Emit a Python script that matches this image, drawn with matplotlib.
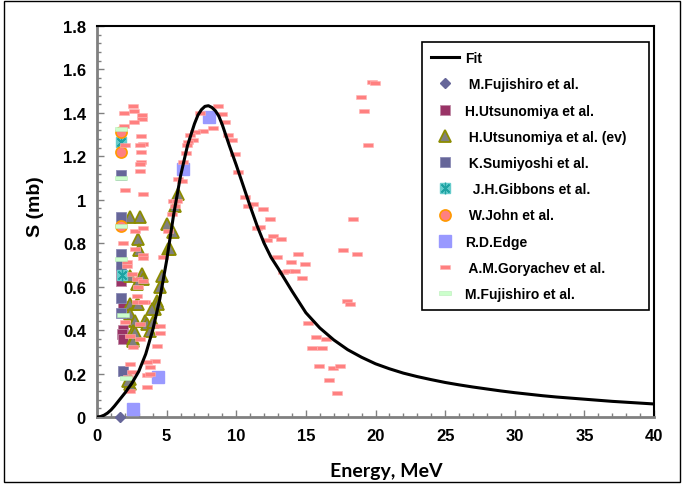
import matplotlib
matplotlib.use("Agg")
import matplotlib.pyplot as plt
from matplotlib.patches import Rectangle
from matplotlib.path import Path
from matplotlib.ticker import MultipleLocator, FuncFormatter

# fitted curve
fit_x = [0, 0.25, 0.5, 0.75, 1, 1.25, 1.5, 2, 2.5, 3, 3.5, 4, 4.5, 5, 5.5, 6, 6.5, 7,
         7.25, 7.5, 7.75, 8, 8.25, 8.5, 8.75, 9, 9.5, 10, 10.5, 11, 11.5, 12, 12.5, 13,
         14, 15, 16, 17, 18, 19, 20, 21, 22, 23, 24, 25, 26, 27, 28, 29, 30, 31, 32,
         33, 34, 35, 36, 37, 38, 39, 40]
fit_y = [0, 0.002, 0.008, 0.018, 0.032, 0.05, 0.07, 0.11, 0.155, 0.21, 0.29, 0.40,
         0.54, 0.72, 0.93, 1.11, 1.25, 1.35, 1.39, 1.415, 1.43, 1.433, 1.425, 1.41,
         1.385, 1.345, 1.25, 1.16, 1.065, 0.97, 0.88, 0.80, 0.735, 0.685, 0.58, 0.48,
         0.41, 0.355, 0.31, 0.275, 0.245, 0.222, 0.202, 0.186, 0.172, 0.159, 0.148,
         0.138, 0.129, 0.12, 0.112, 0.105, 0.098, 0.092, 0.087, 0.082, 0.077, 0.072,
         0.068, 0.064, 0.06]

fuji_x = [1.65]
fuji_y = [0.0]

utsu_x = [1.75, 1.75, 1.85, 1.85, 1.8, 1.9]
utsu_y = [0.674, 0.628, 0.513, 0.40, 0.38, 0.36]

ev_x = [2.37, 3.09, 2.97, 3.04, 2.37, 3.21, 3.33, 2.85, 2.37, 2.85, 2.37, 2.73, 2.61,
        2.56, 3.45, 3.57, 3.81, 4.17, 4.29, 4.53, 4.65, 5.12, 5.24, 5.05, 5.44, 5.6,
        5.84, 2.37, 2.37, 2.97, 4.4, 3.93, 2.73, 2.61, 2.25, 4.05]
ev_y = [0.92, 0.92, 0.82, 0.77, 0.65, 0.658, 0.635, 0.61, 0.52, 0.52, 0.474, 0.443,
        0.397, 0.36, 0.443, 0.428, 0.397, 0.497, 0.535, 0.597, 0.65, 0.773, 0.773,
        0.889, 0.85, 0.973, 1.027, 0.175, 0.152, 0.52, 0.52, 0.497, 0.39, 0.351, 0.167,
        0.436]

sumi_x = [1.7, 1.72, 1.72, 1.72, 1.75, 1.75, 1.85]
sumi_y = [1.114, 0.92, 0.75, 0.70, 0.548, 0.48, 0.213]

gibb_x = [1.7, 1.8]
gibb_y = [1.265, 0.654]

john_x = [1.7, 1.7, 1.75]
john_y = [1.31, 1.22, 0.88]

edge_x = [2.6, 4.4, 6.2, 8.07]
edge_y = [0.037, 0.183, 1.142, 1.38]

gory_x = [2.61, 2.66, 1.94, 3.26, 3.21, 1.94, 2.66, 3.16, 3.28, 3.09, 2.01, 3.18, 3.14,
          3.09, 3.09, 2.01, 3.28,
          1.89, 2.73, 3.28, 2.73, 3.33, 2.13, 3.28, 2.13, 2.49, 2.9, 2.97, 3.33, 2.9,
          3.45, 4.77, 5.12, 5.36, 5.48, 5.6,
          2.85, 3.33, 2.01, 3.09, 4.53, 4.53, 2.37, 3.09, 4.29, 2.61, 4.17, 3.57, 3.81,
          2.37, 3.57, 3.81, 2.49, 2.25, 3.57, 2.37,
          8.72, 7.4, 8.96, 9.2, 8.36, 7.64, 7.04, 6.68, 9.43, 9.67, 6.92, 6.56, 6.44,
          9.91, 6.39, 6.2, 10.15, 5.84, 6.08, 10.63, 10.87, 5.72,
          11.23, 11.95, 12.43, 11.47, 11.71, 12.19, 12.67, 13.22, 17.69, 12.9, 14.46,
          14.94, 13.94, 13.38, 13.74, 14.22, 14.7,
          18.4, 18.7, 17.94, 18.18, 15.18, 15.71, 16.45, 15.42, 16.19, 15.95, 16.93,
          17.46, 16.69, 17.22,
          19.73, 19.97, 18.94, 19.2, 19.47]
gory_y = [1.43, 1.41, 1.40, 1.39, 1.37, 1.34, 1.357, 1.294, 1.255, 1.252, 1.254, 1.22,
          1.175, 1.163, 1.134, 1.045, 1.025,
          0.80, 0.858, 0.869, 0.773, 0.746, 0.715, 0.73, 0.697, 0.658, 0.635, 0.597,
          0.628, 0.559, 0.531, 0.735, 0.858, 0.935, 0.996, 0.973,
          0.531, 0.531, 0.436, 0.428, 0.42, 0.385, 0.374, 0.36, 0.328, 0.321, 0.259,
          0.252, 0.229, 0.244, 0.195, 0.198, 0.206, 0.183, 0.137, 0.121,
          1.43, 1.40, 1.395, 1.36, 1.33, 1.318, 1.31, 1.298, 1.30, 1.273, 1.273, 1.265,
          1.25, 1.211, 1.215, 1.173, 1.13, 1.096, 1.088, 1.011, 0.973, 0.996,
          0.981, 0.958, 0.912, 0.869, 0.876, 0.817, 0.835, 0.82, 0.767, 0.738, 0.749,
          0.704, 0.712, 0.669, 0.674, 0.674, 0.64,
          0.912, 0.75, 0.535, 0.52, 0.431, 0.37, 0.359, 0.318, 0.318, 0.236, 0.224,
          0.236, 0.169, 0.109,
          1.54, 1.536, 1.475, 1.41, 1.254]

fuji2_x = [1.7, 1.7, 1.75, 1.75, 1.85, 2.1]
fuji2_y = [1.326, 1.099, 0.878, 0.727, 0.471, 0.18]

labels = ["Fit", " M.Fujishiro et al.", "H.Utsunomiya et al.", " H.Utsunomiya et al. (ev)",
          " K.Sumiyoshi et al.", "  J.H.Gibbons et al.", " W.John et al.", "R.D.Edge",
          " A.M.Goryachev et al.", "M.Fujishiro et al."]

plt.rcParams["font.family"] = ["Liberation Sans", "DejaVu Sans"]
plt.rcParams["font.weight"] = "bold"

fig = plt.figure(figsize=(6.84, 4.85), dpi=100)
ax = fig.add_axes([97 / 684, 1 - 418 / 485, 557 / 684, 391 / 485])

# small flat bar used by the Excel "dash" markers
dash = Path([(-1, -0.38), (1, -0.38), (1, 0.38), (-1, 0.38), (-1, -0.38)])

h_fit, = ax.plot(fit_x, fit_y, color="black", lw=2.2, zorder=5, solid_joinstyle="round")
h_fuji, = ax.plot(fuji_x, fuji_y, ls="none", marker="D", ms=5.5, color="#666699", zorder=6, clip_on=False)
h_utsu, = ax.plot(utsu_x, utsu_y, ls="none", marker="s", ms=7.5, mfc="#993366", mec="#c08aa5", mew=0.6, zorder=3)
h_ev, = ax.plot(ev_x, ev_y, ls="none", marker="^", ms=9, mfc="#808080", mec="#8c8c00", mew=1.3, zorder=3)
h_sumi, = ax.plot(sumi_x, sumi_y, ls="none", marker="s", ms=7.5, mfc="#666699", mec="#8a8ab5", mew=0.6, zorder=3)
h_gb1, = ax.plot(gibb_x, gibb_y, ls="none", marker="s", ms=7, mfc="#66cccc", mec="#66cccc", zorder=3)
h_gbx, = ax.plot(gibb_x, gibb_y, ls="none", marker=(4, 2, 45), ms=8, mec="#1fa3a3", mew=1.2, zorder=3)
h_gbp, = ax.plot(gibb_x, gibb_y, ls="none", marker="|", ms=8, mec="#1fa3a3", mew=1.0, zorder=3)
h_john, = ax.plot(john_x, john_y, ls="none", marker="o", ms=8, mfc="#ff8080", mec="#ff9900", mew=1.2, zorder=3)
h_edge, = ax.plot(edge_x, edge_y, ls="none", marker="s", ms=8, mfc="#9999ff", mec="#9999ff", zorder=3)
h_gory, = ax.plot(gory_x, gory_y, ls="none", marker=dash, ms=6.5, mfc="#ff8080", mec="#ffb3b3", mew=0.4, zorder=4)
h_fuji2, = ax.plot(fuji2_x, fuji2_y, ls="none", marker=dash, ms=8, mfc="#ccffcc", mec="#b8ecb8", mew=0.4, zorder=4)

ax.set_xlim(0, 40)
ax.set_ylim(0, 1.8)
ax.xaxis.set_major_locator(MultipleLocator(5))
ax.xaxis.set_minor_locator(MultipleLocator(1))
ax.yaxis.set_major_locator(MultipleLocator(0.2))
ax.yaxis.set_minor_locator(MultipleLocator(0.04))
ax.yaxis.set_major_formatter(FuncFormatter(lambda v, p: "%g" % round(v, 2)))
ax.tick_params(which="both", direction="in", colors="#808080", labelcolor="black",
               labelsize=12, width=1)
ax.tick_params(which="major", length=5, pad=8)
ax.tick_params(which="minor", length=3)
for lab in ax.get_xticklabels() + ax.get_yticklabels():
    lab.set_fontweight("bold")

for s in ["left", "bottom"]:
    ax.spines[s].set_color("#808080")
    ax.spines[s].set_linewidth(2)
for s in ["top", "right"]:
    ax.spines[s].set_color("black")
    ax.spines[s].set_linewidth(1.5)

ax.set_xlabel("Energy, MeV", fontsize=14, fontweight="bold", family=["Lato", "DejaVu Sans"])
ax.set_ylabel("S (mb)", fontsize=14, fontweight="bold")
ax.xaxis.set_label_coords(0.52, -0.115)
ax.yaxis.set_label_coords(-0.095, 0.54)

handles = [h_fit, h_fuji, h_utsu, h_ev, h_sumi, (h_gb1, h_gbx, h_gbp), h_john, h_edge, h_gory, h_fuji2]
leg = ax.legend(handles, labels, loc="upper left",
                bbox_to_anchor=(0.583, 0.284, 0.408, 0.675), mode="expand",
                prop={"weight": "bold", "size": 10},
                frameon=True, fancybox=False, edgecolor="black", framealpha=1,
                handlelength=2.0, handletextpad=0.5, labelspacing=0.88,
                borderpad=0.65, borderaxespad=0, numpoints=1)
leg.get_frame().set_linewidth(1.2)

fig.patches.append(Rectangle((0.006, 0.004), 0.988, 0.992, transform=fig.transFigure,
                             fill=False, edgecolor="black", lw=1))

fig.savefig("out.png", dpi=100)
